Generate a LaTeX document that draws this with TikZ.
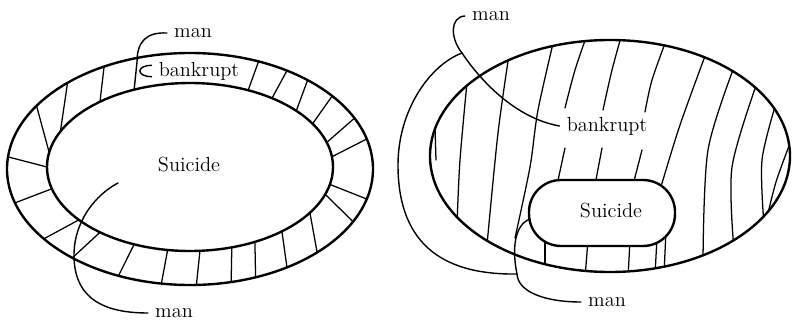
\documentclass[tikz,border=0pt]{standalone}
\usepackage{tikz}
\usetikzlibrary{calc}

\begin{document}
\begin{tikzpicture}[x=0.025cm, y=-0.025cm,
    rim/.style={line width=1.7pt},
    hatch/.style={line width=0.9pt, line cap=round},
    link/.style={line width=1pt, line cap=round},
    lbl/.style={font=\fontsize{14.5}{17}\selectfont, inner sep=5pt}]

    \fill[white, use as bounding box] (0,0) rectangle (792,322);

    % =================================================================
    % HÌNH TRÁI: VÀNH "bankrupt" BAO QUANH "Suicide"
    % =================================================================
    \begin{scope}
        \coordinate (O1) at (190,169);   % tâm elip ngoài
        \coordinate (I1) at (190,167);   % tâm elip trong

        % Các nét gạch trong vành (góc trên elip trong / elip ngoài)
        \foreach \a/\b in {231/242, 205/228, 190/213, 180/186, 165/163,
                           141/143, 129/130, 113/113, 99/99, 86/88, 73/77,
                           63/69, 50/58, 33/46, 19/27, 12/15, 353/345,
                           343/334, 329/321, 318/310, 305/302, 294/292}
            \draw[hatch] ([shift={(I1)}]\a:143 and 84) -- ([shift={(O1)}]\b:183 and 116);

        % Hai elip
        \draw[rim] (O1) ellipse (183 and 116);
        \draw[rim] (I1) ellipse (143 and 84);

        % Nhãn
        \node[lbl] (manTL) at (193,33) {man};
        \node[lbl] (bankL) at (199,71) {bankrupt};
        \node[lbl] (suicL) at (189,165) {Suicide};
        \node[lbl] (manBL) at (174,313) {man};

        % Đường "man" phía trên đi xuống tới elip trong
        \coordinate (P1) at ([shift={(I1)}]247:143 and 84);
        \draw[link] (manTL.west) .. controls (146,32) and (137,42) .. (137,62) -- (P1);

        % Móc nhỏ trước chữ "bankrupt"
        \draw[link] ([yshift=4pt]bankL.west) .. controls +(-11pt,0) and +(-11pt,0) .. ([yshift=-4pt]bankL.west);

        % Đường "man" phía dưới đi vào trong elip
        \coordinate (P2) at (118,183);
        \draw[link] (manBL.west) .. controls (95,313) and (74,292) .. (74,255)
            .. controls (74,222) and (95,195) .. (P2);
    \end{scope}

    % =================================================================
    % HÌNH PHẢI: "Suicide" NẰM TRONG VÙNG "bankrupt"
    % =================================================================
    \begin{scope}
        \coordinate (O2) at (610,156);   % tâm elip lớn

        % Các nét gạch, cắt theo elip lớn
        \begin{scope}
            \clip (O2) ellipse (180 and 116);
            \draw[hatch] (435,127) -- (436,160);
            \draw[hatch] plot[smooth] coordinates {(468,72) (460,160) (457,225)};
            \draw[hatch] plot[smooth] coordinates {(510,48) (498,133) (487,245)};
            \draw[hatch] plot[smooth] coordinates {(555,35) (538,110) (530,167) (515,238)};
            \draw[hatch] plot[smooth] coordinates {(588,32) (575,70) (565,108)};
            \draw[hatch] plot[smooth] coordinates {(623,30) (612,70) (603,110)};
            \draw[hatch] plot[smooth] coordinates {(667,38) (652,80) (645,112)};
            \draw[hatch] (565,148) -- (557,185);
            \draw[hatch] (602,148) -- (595,185);
            \draw[hatch] (642,150) -- (633,185);
            \draw[hatch] plot[smooth] coordinates {(708,48) (680,125) (660,190)};
            \draw[hatch] (666,230) -- (664,275);
            \draw[hatch] (545,238) -- (545,275);
            \draw[hatch] (588,240) -- (585,278);
            \draw[hatch] (630,240) -- (628,278);
            \draw[hatch] (657,238) -- (655,275);
            \draw[hatch] plot[smooth] coordinates {(736,62) (708,150) (703,262)};
            \draw[hatch] plot[smooth] coordinates {(758,80) (732,167) (734,250)};
            \draw[hatch] plot[smooth] coordinates {(777,100) (762,160) (764,225)};
            \draw[hatch] plot[smooth] coordinates {(792,138) (776,182) (766,222)};
        \end{scope}

        % Vùng "Suicide" (tô trắng rồi vẽ viền)
        \fill[white, rounded corners=0.8cm] (529,180) rectangle (675,246);
        \draw[rim, rounded corners=0.8cm] (529,180) rectangle (675,246);

        % Elip lớn
        \draw[rim] (O2) ellipse (180 and 116);

        % Nhãn
        \node[lbl] (manTR) at (491,16) {man};
        \node[lbl] (bankR) at (607,126) {bankrupt};
        \node[lbl] (suicR) at (611,211) {Suicide};
        \node[lbl] (manBR) at (607,302) {man};

        % Các điểm rẽ nhánh / điểm nối
        \coordinate (F) at (462,53);
        \coordinate (J) at (517,274);
        \coordinate (T) at (530,219);

        % Đường "man" phía trên tới "bankrupt"
        \draw[link] (manTR.west) .. controls (450,17) and (450,38) .. (F)
            .. controls (480,80) and (515,118) .. (bankR.west);

        % Vòng ngoài bên trái
        \draw[link] (F) .. controls (430,65) and (398,110) .. (398,165)
            .. controls (398,250) and (450,275) .. (J);

        % Đường "man" phía dưới tới "Suicide"
        \draw[link] (manBR.west) .. controls (545,302) and (518,292) .. (J)
            .. controls (512,250) and (514,225) .. (T);
    \end{scope}

\end{tikzpicture}
\end{document}
